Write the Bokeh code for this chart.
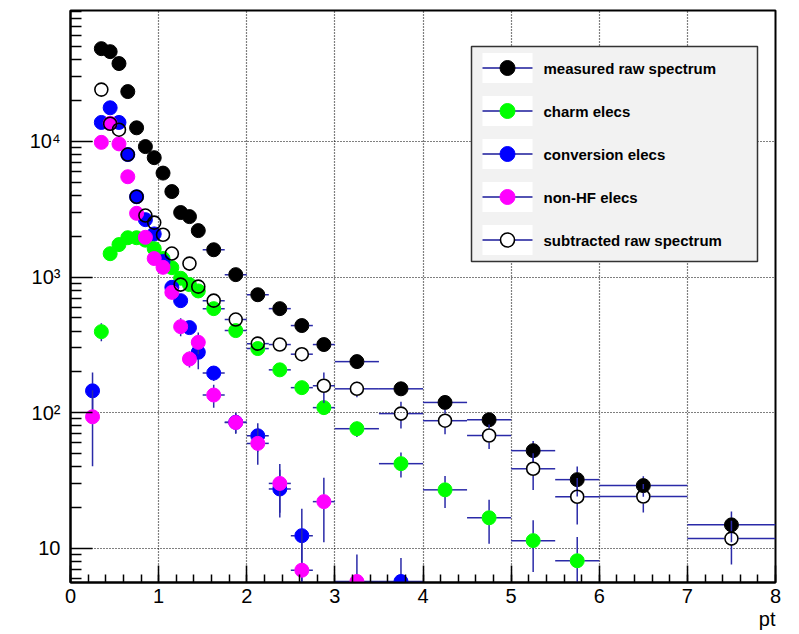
import math
from bokeh.plotting import figure
from bokeh.models import FixedTicker, Range1d, LinearScale, ColumnDataSource, Title
from bokeh.core.properties import value
from bokeh.embed import file_html
from bokeh.resources import INLINE

# pt binning (variable-width bins)
bin_edges = [0.2, 0.3, 0.4, 0.5, 0.6, 0.7, 0.8, 0.9, 1.0, 1.1, 1.2, 1.3, 1.4, 1.5,
             1.75, 2.0, 2.25, 2.5, 2.75, 3.0,
             3.5, 4.0, 4.5, 5.0, 5.5, 6.0,
             7.0, 8.0]

measured = [None, 48300, 45900, 37500, 23300, 12600, 9160, 7590, 5840, 4270, 2990, 2790, 2200,
            1590, 1042, 741, 585, 439, 318,
            238, 150, 119, 88.7, 52.5, 32.1,
            29.0, 14.9]
measured_err = [None, 290, 280, 250, 200, 145, 125, 115, 100, 85, 72, 70, 62,
                38, 31, 26, 23, 20, 17,
                11, 9, 10, 9.5, 9.4, 8,
                5, 3.8]

charm = [None, 396, 1487, 1735, 1950, 1950, 1870, 1620, 1370, 1173, 980, 880, 790,
         585, 403, 297, 207, 153, 109,
         76.2, 42.1, 27.0, 16.8, 11.4, 8.1,
         None, None]
charm_err = [None, 60, 90, 95, 100, 100, 95, 90, 85, 75, 65, 60, 55,
             35, 28, 22, 18, 15, 13,
             10, 8.8, 7.2, 6, 4.7, 4,
             None, None]

conversion = [145, 13800, 17700, 13800, 8000, 3910, 2650, 2080, 1300, 840, 670, 424, 279,
              196, 85, 67.6, 27.4, 12.4, None,
              None, 5.7, None, None, None, None,
              None, None]
conversion_err = [53, 250, 280, 250, 200, 140, 115, 100, 80, 65, 57, 45, 70,
                  25, 15, 16, 10.5, 7.2, None,
                  None, 2.8, None, None, None, None,
                  None, None]

non_hf = [93.3, 9840, 13600, 9590, 5490, 2950, 1963, 1370, 1180, 771, 431, 249, 330,
          135, 84.7, 59.4, 30.1, 6.9, 22.1,
          5.7, None, None, None, None, None,
          None, None]
non_hf_err = [53, 220, 250, 220, 170, 120, 95, 80, 75, 60, 65, 34, 60,
              26, 14, 18, 11.8, 7, 11,
              3.3, None, None, None, None, None,
              None, None]

subtracted = [None, 24100, 13500, 12200, 8000, 3910, 2840, 2520, 2050, 1490, 880, 1257, 850,
              670, 486, 323, 318, 270, 158,
              150, 98.5, 87.3, 67.9, 38.6, 24.0,
              24.1, 11.8]
subtracted_err = [None, 400, 350, 330, 280, 200, 170, 160, 140, 120, 100, 105, 95,
                  55, 45, 38, 35, 31, 40,
                  20, 22, 18, 14, 11.7, 9,
                  5.7, 4.2]

legend_labels = ["measured raw spectrum", "charm elecs", "conversion elecs",
                 "non-HF elecs", "subtracted raw spectrum"]

x_ticks = [0, 1, 2, 3, 4, 5, 6, 7, 8]
y_ticks = [10, 100, 1000, 10000]
y_tick_labels = {10: "10", 100: "10\u00b2", 1000: "10\u00b3", 10000: "10\u2074"}

ERR_COLOR = "#2a2aa8"
FONT = "Liberation Sans"

X_MIN, X_MAX = 0, 8
Y_MIN, Y_MAX = 5.6, 92300
FRAME_W, FRAME_H = 705, 572
MARKER_R = 7  # marker radius in px; error bars start at the marker edge

p = figure(width=799, height=634, x_range=Range1d(X_MIN, X_MAX), y_range=Range1d(Y_MIN, Y_MAX),
           y_axis_type="log", output_backend="svg", toolbar_location=None,
           min_border_left=70, min_border_right=24, min_border_top=10, min_border_bottom=52,
           background_fill_color="white", border_fill_color="white")
# pixel coordinate system of the frame, used for the legend box
p.extra_x_ranges = {"px": Range1d(0, FRAME_W)}
p.extra_y_ranges = {"px": Range1d(0, FRAME_H)}
p.extra_x_scales = {"px": LinearScale()}
p.extra_y_scales = {"px": LinearScale()}

p.outline_line_color = "black"
p.outline_line_width = 2

# axes
xa = p.xaxis[0]
xa.ticker = FixedTicker(ticks=x_ticks, minor_ticks=[i * 0.2 for i in range(41)])
ya = p.yaxis[0]
ya.ticker = FixedTicker(ticks=y_ticks,
                        minor_ticks=[m * 10 ** e for e in range(0, 5) for m in range(2, 10)])
ya.major_label_overrides = y_tick_labels
for ax in (xa, ya):
    ax.axis_line_width = 2
    ax.axis_line_color = "black"
    ax.major_tick_out = 0
    ax.minor_tick_out = 0
    ax.major_tick_line_width = 1.5
    ax.minor_tick_line_width = 1.5
    ax.major_label_text_font = FONT
    ax.major_label_text_font_size = "20px"
    ax.major_label_text_color = "black"
xa.major_tick_in = 17
xa.minor_tick_in = 8
xa.major_label_standoff = 6
ya.major_tick_in = 22
ya.minor_tick_in = 11
ya.major_label_standoff = 10

p.xgrid.ticker = FixedTicker(ticks=x_ticks[1:-1])
p.ygrid.ticker = FixedTicker(ticks=y_ticks)
for g in (p.xgrid[0], p.ygrid[0]):
    g.grid_line_color = "black"
    g.grid_line_dash = "1 2"
    g.grid_line_width = 1.2

p.add_layout(Title(text="pt", align="right", text_font=FONT, text_font_size="20px",
                   text_font_style="normal", text_color="black", standoff=0, offset=0), "below")

centers = [(a + b) / 2 for a, b in zip(bin_edges[:-1], bin_edges[1:])]
halfw = [(b - a) / 2 for a, b in zip(bin_edges[:-1], bin_edges[1:])]

# marker half-size expressed in axis units
gap_x = MARKER_R * (X_MAX - X_MIN) / FRAME_W
gap_logy = MARKER_R * math.log10(Y_MAX / Y_MIN) / FRAME_H


def series_sources(vals, errs):
    pts = dict(x=[], y=[])
    h = dict(x0=[], x1=[], y=[])
    v_ = dict(x=[], y0=[], y1=[])
    for c, hw, v, e in zip(centers, halfw, vals, errs):
        if v is None:
            continue
        pts["x"].append(c)
        pts["y"].append(v)
        # horizontal arms (bin width), outside the marker
        if hw > gap_x:
            h["x0"] += [c - hw, c + gap_x]
            h["x1"] += [c - gap_x, c + hw]
            h["y"] += [v, v]
        # vertical arms (statistical error), outside the marker
        top_edge = v * 10 ** gap_logy
        bot_edge = v / 10 ** gap_logy
        if v + e > top_edge:
            v_["x"].append(c)
            v_["y0"].append(top_edge)
            v_["y1"].append(v + e)
        lo = max(v - e, 1.0)
        if lo < bot_edge:
            v_["x"].append(c)
            v_["y0"].append(lo)
            v_["y1"].append(bot_edge)
    return ColumnDataSource(pts), ColumnDataSource(h), ColumnDataSource(v_)


series = [
    (measured, measured_err, "black", "black"),
    (charm, charm_err, "#00ff00", "#00ff00"),
    (conversion, conversion_err, "#0000ff", "#0000ff"),
    (non_hf, non_hf_err, "#ff00ff", "#ff00ff"),
    (subtracted, subtracted_err, "black", None),
]

for vals, errs, line_c, fill_c in series:
    pts, hsrc, vsrc = series_sources(vals, errs)
    p.segment(x0="x0", y0="y", x1="x1", y1="y", source=hsrc,
              line_color=ERR_COLOR, line_width=1.5)
    p.segment(x0="x", y0="y0", x1="x", y1="y1", source=vsrc,
              line_color=ERR_COLOR, line_width=1.5)
    if fill_c is None:
        p.scatter("x", "y", source=pts, marker="circle", size=13,
                  fill_color=None, line_color=line_c, line_width=1.6)
    else:
        p.scatter("x", "y", source=pts, marker="circle", size=14,
                  fill_color=fill_c, line_color=line_c, line_width=1)

# legend box (frame pixel coordinates, origin bottom-left)
LEG_L, LEG_R, LEG_B, LEG_T = 401, 687, 321, 536
p.quad(left=[LEG_L], right=[LEG_R], bottom=[LEG_B], top=[LEG_T],
       fill_color="#f2f2f2", line_color="#333333", line_width=1.5,
       x_range_name="px", y_range_name="px")
row_y = [514.5 - 43 * i for i in range(len(series))]
p.quad(left=[412] * 5, right=[462] * 5, bottom=[y - 15 for y in row_y], top=[y + 15 for y in row_y],
       fill_color="white", line_color=None, x_range_name="px", y_range_name="px")
p.segment(x0=[412] * 5, x1=[462] * 5, y0=row_y, y1=row_y, line_color="#1a1a9a",
          line_width=1.5, x_range_name="px", y_range_name="px")
for (vals, errs, line_c, fill_c), y in zip(series, row_y):
    if fill_c is None:
        p.scatter([437], [y], marker="circle", size=14, fill_color="white", line_color=line_c,
                  line_width=1.6, x_range_name="px", y_range_name="px")
    else:
        p.scatter([437], [y], marker="circle", size=15, fill_color=fill_c, line_color=line_c,
                  x_range_name="px", y_range_name="px")
p.text(x=[473] * 5, y=row_y, text=legend_labels, text_font=value(FONT),
       text_font_style="bold", text_font_size="15px", text_baseline="middle",
       text_color="black", x_range_name="px", y_range_name="px")

open("out.html", "w").write(file_html(p, INLINE))
